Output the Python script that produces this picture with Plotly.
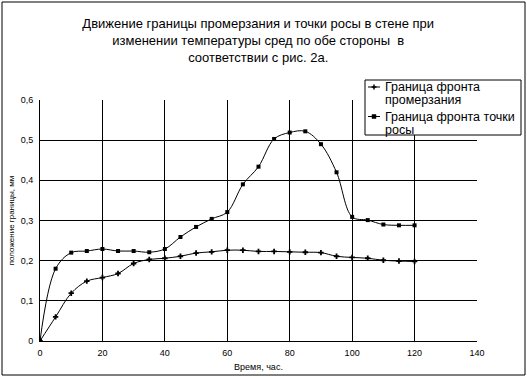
import plotly.graph_objects as go

hours = [0, 5, 10, 15, 20, 25, 30, 35, 40, 45, 50, 55, 60, 65, 70, 75, 80, 85, 90, 95, 100, 105, 110, 115, 120]
frost_front = [0, 0.06, 0.119, 0.149, 0.158, 0.168, 0.193, 0.203, 0.206, 0.211, 0.219, 0.222, 0.226, 0.226, 0.223,
               0.223, 0.222, 0.221, 0.22, 0.211, 0.208, 0.206, 0.201, 0.199, 0.198]
dew_front = [0, 0.18, 0.22, 0.224, 0.229, 0.224, 0.224, 0.221, 0.229, 0.259, 0.284, 0.304, 0.321, 0.39, 0.434,
             0.503, 0.519, 0.522, 0.49, 0.42, 0.309, 0.301, 0.29, 0.288, 0.288]

legend_frost = ["Граница фронта", "промерзания"]
legend_dew = ["Граница фронта точки", "росы"]
title_text = ("Движение границы промерзания и точки росы в стене при<br>"
              "изменении температуры сред по обе стороны  в<br>соответствии с рис. 2а.")

W, H = 527, 378
L, R, T, B = 40, 477, 100, 341

fig = go.Figure()
fig.add_trace(go.Scatter(x=hours, y=frost_front, name=" ".join(legend_frost), mode="lines+markers",
                         showlegend=False,
                         line=dict(color="black", width=1, shape="spline", smoothing=1),
                         marker=dict(symbol="cross", size=4.5, color="black")))
fig.add_trace(go.Scatter(x=hours, y=dew_front, name=" ".join(legend_dew), mode="lines+markers",
                         showlegend=False,
                         line=dict(color="black", width=1, shape="spline", smoothing=1),
                         marker=dict(symbol="square", size=4, color="black")))


def px(x):
    return (x - L) / (R - L)


def py(y):
    return (B - y) / (B - T)


font = "Liberation Sans, Arial, sans-serif"
shapes = [
    # outer chart border
    dict(type="rect", xref="paper", yref="paper", x0=px(2), x1=px(525), y0=py(375), y1=py(2),
         line=dict(color="black", width=1), layer="below"),
    # legend box
    dict(type="rect", xref="paper", yref="paper", x0=px(365), x1=px(521), y0=py(135), y1=py(80),
         line=dict(color="black", width=1), fillcolor="white", layer="above"),
]
annotations = []


def legend_item(yc, lines, symbol):
    shapes.append(dict(type="line", xref="paper", yref="paper", x0=px(368), x1=px(380), y0=py(yc), y1=py(yc),
                       line=dict(color="black", width=1), layer="above"))
    cx = 374
    if symbol == "square":
        shapes.append(dict(type="rect", xref="paper", yref="paper", x0=px(cx - 2), x1=px(cx + 2),
                           y0=py(yc + 2), y1=py(yc - 2), line=dict(color="black", width=0.5),
                           fillcolor="black", layer="above"))
    else:
        shapes.append(dict(type="line", xref="paper", yref="paper", x0=px(cx), x1=px(cx),
                           y0=py(yc + 2.5), y1=py(yc - 2.5), line=dict(color="black", width=1.5), layer="above"))
        shapes.append(dict(type="line", xref="paper", yref="paper", x0=px(cx - 2.5), x1=px(cx + 2.5),
                           y0=py(yc), y1=py(yc), line=dict(color="black", width=1.5), layer="above"))
    for i, t in enumerate(lines):
        annotations.append(dict(text=t, xref="paper", yref="paper", x=px(383), y=py(yc + i * 13),
                                xanchor="left", yanchor="middle", showarrow=False,
                                font=dict(size=12.5, family=font, color="black")))


legend_item(87, legend_frost, "cross")
legend_item(116.5, legend_dew, "square")

fig.update_layout(
    width=W, height=H,
    margin=dict(l=L, r=W - R, t=T, b=H - B, pad=0, autoexpand=False),
    paper_bgcolor="white", plot_bgcolor="white",
    separators=", ",
    font=dict(family=font, color="black", size=9),
    title=dict(text=title_text, x=0.49, xanchor="center", y=1 - 28 / H, yanchor="middle",
               font=dict(size=13, family=font, color="black"), automargin=False),
    showlegend=False,
    shapes=shapes,
    annotations=annotations,
)
fig.update_xaxes(range=[0, 140], dtick=20, showgrid=True, gridcolor="black", gridwidth=1,
                 showline=True, linecolor="black", linewidth=1, mirror=False, zeroline=False,
                 ticks="", tickfont=dict(size=9), ticklabelstandoff=3, automargin=False,
                 title=dict(text="Время, час.", font=dict(size=9), standoff=6))
fig.update_yaxes(range=[0, 0.6], dtick=0.1, showgrid=True, gridcolor="black", gridwidth=1,
                 showline=True, linecolor="black", linewidth=1, zeroline=False,
                 ticks="", tickfont=dict(size=9), ticklabelstandoff=4, automargin=False,
                 title=dict(text="положение границы, мм", font=dict(size=8), standoff=4))

fig.write_html("out.html")
